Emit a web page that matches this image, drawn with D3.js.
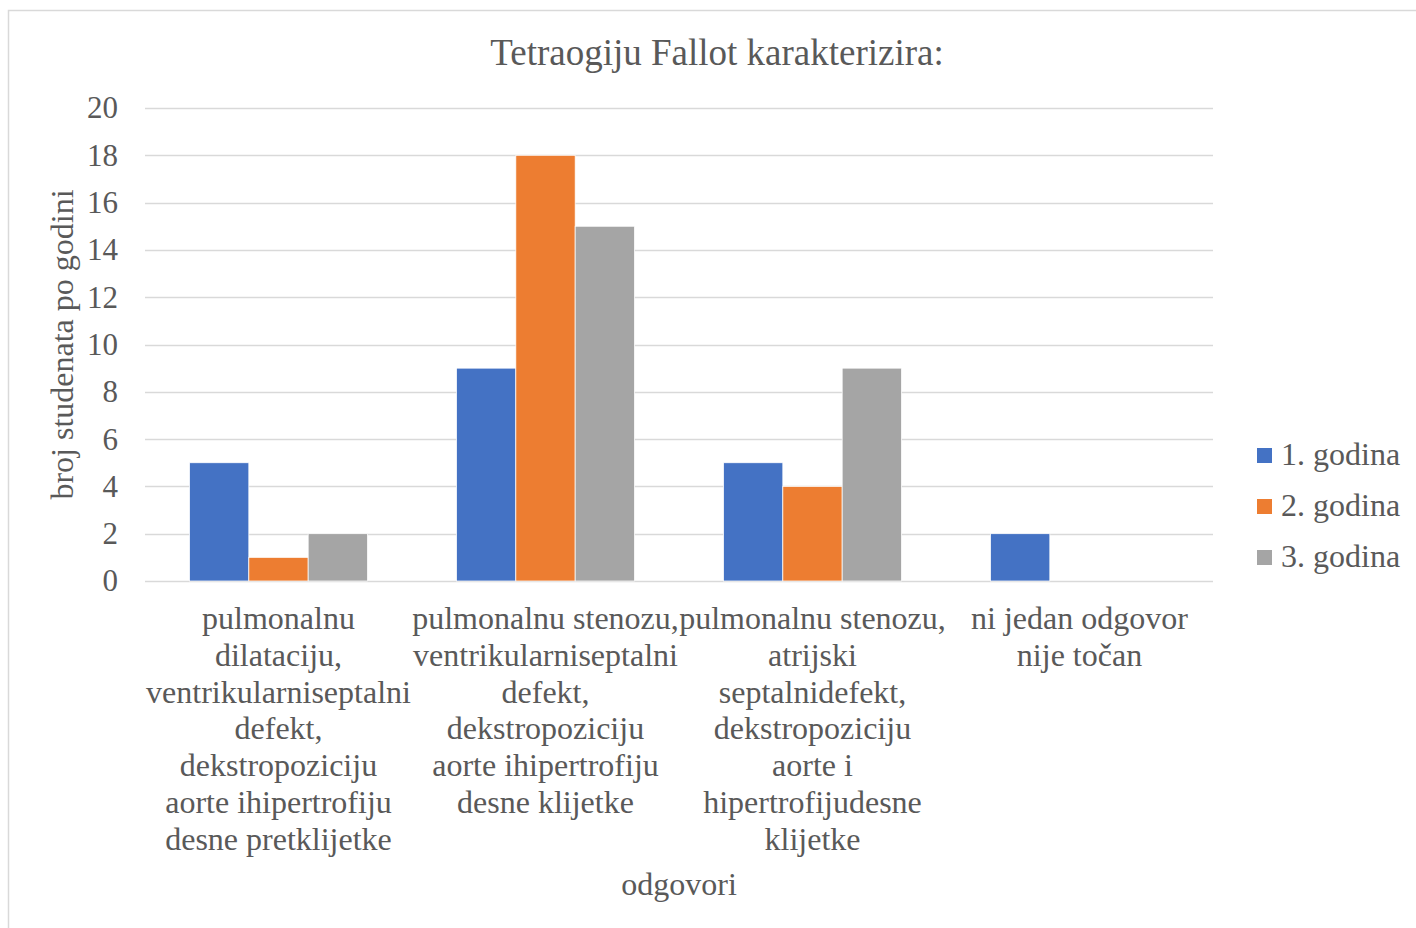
<!DOCTYPE html>
<html>
<head>
<meta charset="utf-8">
<script src="https://cdn.jsdelivr.net/npm/d3@7"></script>
<style>
  body { margin: 0; background: white; }
  svg { display: block; }
</style>
</head>
<body>
<svg id="chart"></svg>
<script>
// Chart data
var categories = ["c1", "c2", "c3", "c4"]
var categoryLines = [
    ["pulmonalnu", "dilataciju,", "ventrikularniseptalni", "defekt,", "dekstropoziciju", "aorte ihipertrofiju", "desne pretklijetke"],
    ["pulmonalnu stenozu,", "ventrikularniseptalni", "defekt,", "dekstropoziciju", "aorte ihipertrofiju", "desne klijetke"],
    ["pulmonalnu stenozu,", "atrijski", "septalnidefekt,", "dekstropoziciju", "aorte i", "hipertrofijudesne", "klijetke"],
    ["ni jedan odgovor", "nije točan"]
]
var seriesNames = ["1. godina", "2. godina", "3. godina"]
var series1 = [5, 9, 5, 2]
var series2 = [1, 18, 4, 0]
var series3 = [2, 15, 9, 0]
var yTicks = [0, 2, 4, 6, 8, 10, 12, 14, 16, 18, 20]

var seriesValues = [series1, series2, series3]
var colors = ["#4472c4", "#ed7d31", "#a5a5a5"]

var dimensions = {
    width: 1416,
    height: 928,
    margin: { top: 108, bottom: 347, left: 145, right: 203 }
}

var font = "'Liberation Serif', 'Times New Roman', serif"
var textColor = "#595959"

var svg = d3.select("#chart")
    .attr("width", dimensions.width)
    .attr("height", dimensions.height)
    .style("font-family", font)

// chart border
svg.append("rect")
    .attr("x", 8.5)
    .attr("y", 10.5)
    .attr("width", dimensions.width)
    .attr("height", dimensions.height)
    .attr("fill", "white")
    .attr("stroke", "#d9d9d9")
    .attr("stroke-width", 1.5)

var xScale = d3.scaleBand()
    .domain(categories)
    .range([dimensions.margin.left, dimensions.width - dimensions.margin.right])

var yScale = d3.scaleLinear()
    .domain([0, 20])
    .range([dimensions.height - dimensions.margin.bottom, dimensions.margin.top])

// bars within a category: gap width 150%
var innerScale = d3.scaleBand()
    .domain(d3.range(seriesNames.length))
    .range([0, xScale.bandwidth()])
    .paddingOuter(0.75)
    .paddingInner(0)

// gridlines
svg.append("g")
    .selectAll("line")
    .data(yTicks)
    .enter()
    .append("line")
    .attr("x1", dimensions.margin.left)
    .attr("x2", dimensions.width - dimensions.margin.right)
    .attr("y1", d => Math.round(yScale(d)) + 0.5)
    .attr("y2", d => Math.round(yScale(d)) + 0.5)
    .attr("stroke", "#d9d9d9")
    .attr("stroke-width", 1.5)

// y tick labels
var yAxis = svg.append("g")
    .attr("transform", `translate(${dimensions.margin.left - 27},0)`)
    .call(d3.axisLeft(yScale).tickValues(yTicks).tickSize(0).tickPadding(0))
yAxis.select(".domain").remove()
yAxis.selectAll("text")
    .attr("fill", textColor)
    .style("font-size", "31px")
    .style("font-family", font)

// bars
seriesValues.forEach((vals, s) => {
    svg.append("g")
        .selectAll("rect")
        .data(vals)
        .enter()
        .append("rect")
        .attr("x", (d, i) => xScale(categories[i]) + innerScale(s))
        .attr("width", innerScale.bandwidth())
        .attr("y", d => yScale(d))
        .attr("height", d => yScale(0) - yScale(d))
        .attr("fill", colors[s])
        .attr("stroke", "white")
        .attr("stroke-width", 0.75)
})

// category labels
categoryLines.forEach((lines, i) => {
    svg.append("text")
        .attr("x", xScale(categories[i]) + xScale.bandwidth() / 2)
        .attr("y", 629)
        .attr("text-anchor", "middle")
        .attr("fill", textColor)
        .style("font-size", "32px")
        .selectAll("tspan")
        .data(lines)
        .enter()
        .append("tspan")
        .attr("x", xScale(categories[i]) + xScale.bandwidth() / 2)
        .attr("dy", (d, j) => j == 0 ? 0 : 36.8)
        .text(d => d)
})

// title
svg.append("text")
    .attr("x", 717)
    .attr("y", 65)
    .attr("text-anchor", "middle")
    .attr("fill", textColor)
    .style("font-size", "37px")
    .text("Tetraogiju Fallot karakterizira:")

// axis titles
svg.append("text")
    .attr("x", (dimensions.margin.left + dimensions.width - dimensions.margin.right) / 2)
    .attr("y", 895)
    .attr("text-anchor", "middle")
    .attr("fill", textColor)
    .style("font-size", "32px")
    .text("odgovori")

svg.append("text")
    .attr("transform", `translate(73,${yScale(10)}) rotate(-90)`)
    .attr("text-anchor", "middle")
    .attr("fill", textColor)
    .style("font-size", "32px")
    .text("broj studenata po godini")

// legend
var legend = svg.append("g")
    .selectAll("g")
    .data(seriesNames)
    .enter()
    .append("g")
    .attr("transform", (d, i) => `translate(1257,${455 + i * 51})`)

legend.append("rect")
    .attr("x", 0)
    .attr("y", -7)
    .attr("width", 15)
    .attr("height", 15)
    .attr("fill", (d, i) => colors[i])

legend.append("text")
    .attr("x", 24)
    .attr("y", 10)
    .attr("fill", textColor)
    .style("font-size", "32px")
    .text(d => d)
</script>
</body>
</html>
